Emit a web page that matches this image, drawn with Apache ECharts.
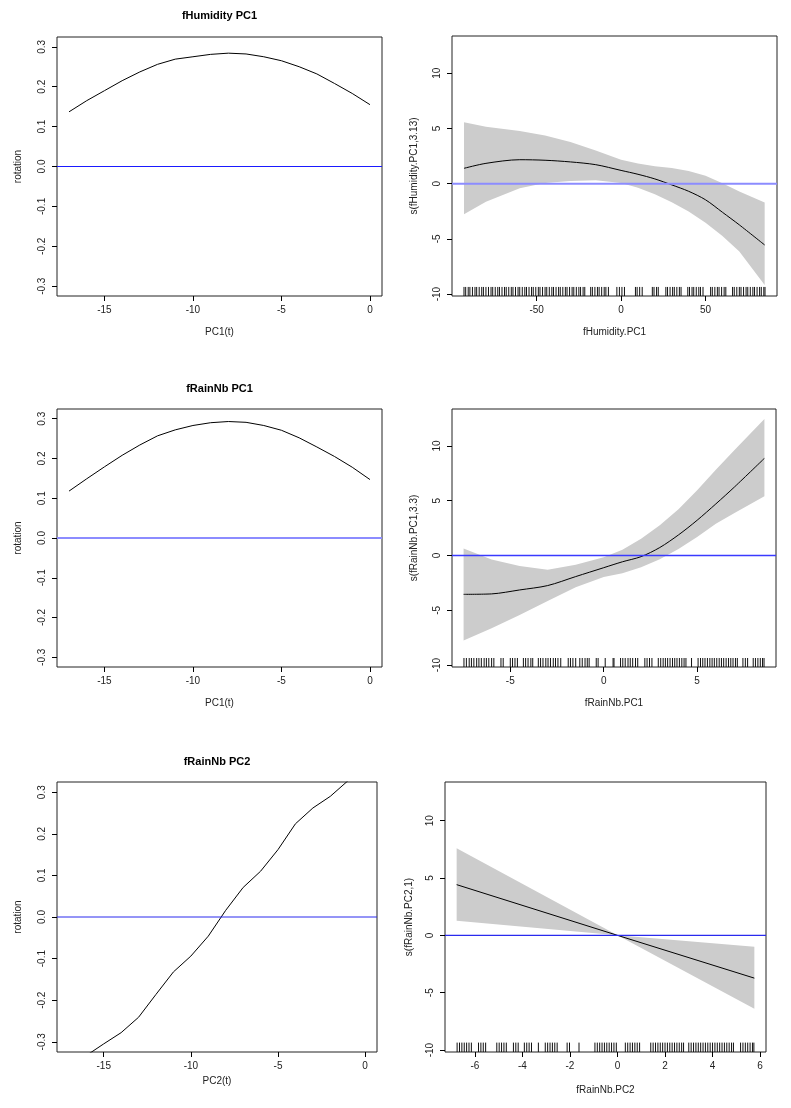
<!DOCTYPE html>
<html><head><meta charset="utf-8">
<script src="https://cdn.jsdelivr.net/npm/echarts@6/dist/echarts.min.js"></script>
<style>html,body{margin:0;padding:0;background:#fff}#wrap{position:relative;width:791px;height:1108px;background:#fff}
.panel{position:absolute;left:0;top:0;width:791px;height:1108px}</style>
</head><body><div id="wrap"></div>
<script>
// ---------- data ----------
const pcT = [-17,-16,-15,-14,-13,-12,-11,-10,-9,-8,-7,-6,-5,-4,-3,-2,-1,0];
const humPC1Rotation = [0.137,0.165,0.190,0.215,0.237,0.256,0.269,0.275,0.281,0.284,0.282,0.275,0.265,0.250,0.232,0.208,0.183,0.155];
const rainPC1Rotation = [0.118,0.149,0.179,0.208,0.234,0.257,0.272,0.283,0.290,0.293,0.291,0.283,0.271,0.252,0.229,0.205,0.178,0.147];
const rainPC2Rotation = [-0.360,-0.333,-0.305,-0.278,-0.241,-0.186,-0.132,-0.094,-0.046,0.016,0.071,0.110,0.162,0.224,0.262,0.290,0.327,0.360];

const humX   = [-93,-80,-60,-45,-30,-15,0,10,20,30,40,50,60,70,85];
const humFit = [1.39,1.84,2.17,2.12,1.97,1.72,1.20,0.85,0.43,-0.11,-0.69,-1.46,-2.59,-3.73,-5.55];
const humUp  = [5.56,5.16,4.77,4.37,3.78,3.01,2.16,1.82,1.58,1.41,1.15,0.72,0.04,-0.70,-1.70];
const humLo  = [-2.77,-1.63,-0.41,0.05,0.25,0.32,0.05,-0.38,-0.96,-1.69,-2.53,-3.54,-4.74,-6.15,-9.17];
const humRug = [-93,-92,-90.5,-89.5,-88,-86.5,-85.5,-84,-82.5,-81.5,-80,-78.5,-77,-76,-74.5,-73,-72,-70.5,-69,-68,-66.5,-65,-64,-62.5,-61,-60,-58.5,-57,-56,-54.5,-53,-52,-50.5,-49,-48,-46.5,-45,-44,-42.5,-41,-40,-38.5,-37,-36,-34.5,-33,-32,-30.5,-29,-28,-26.5,-25,-24,-22.5,-21.5,-18,-17,-15.5,-14,-13,-11.5,-10,-9,-7.5,-2.5,-1,0.5,2,8.5,9.5,11,12.5,18.5,19.5,21,22,26.5,27.5,29,30.5,31.5,33,34.5,35.5,39.5,40.5,42,43,44.5,46,47,48.5,53,54,55.5,57,58,59.5,61,62,66,67,68.5,70,71,72.5,74,75,76.5,78,79,80.5,82,83,84.5,85.2];

const rainX   = [-7.5,-6,-4.5,-3,-1.5,0,1,2,3,4,5,6,7,8.6];
const rainFit = [-3.54,-3.50,-3.14,-2.74,-1.92,-1.11,-0.57,-0.10,0.73,1.88,3.22,4.71,6.26,8.87];
const rainUp  = [0.64,-0.36,-0.95,-1.30,-0.85,-0.15,0.53,1.54,2.77,4.23,5.96,7.83,9.62,12.45];
const rainLo  = [-7.75,-6.64,-5.42,-4.14,-2.89,-1.96,-1.61,-1.07,-0.34,0.60,1.70,2.89,3.88,5.42];
const rainRug = [-7.48,-7.35,-7.2,-7.08,-6.95,-6.8,-6.68,-6.55,-6.4,-6.28,-6.15,-6.0,-5.88,-5.5,-5.38,-5.0,-4.88,-4.75,-4.62,-4.3,-4.18,-4.05,-3.9,-3.8,-3.5,-3.38,-3.25,-3.1,-2.98,-2.85,-2.7,-2.58,-2.45,-2.3,-1.9,-1.78,-1.65,-1.5,-1.28,-1.15,-1.0,-0.88,-0.78,-0.4,-0.3,0.08,0.5,0.55,0.9,1.02,1.15,1.3,1.42,1.55,1.7,1.82,2.2,2.32,2.45,2.58,2.92,3.05,3.18,3.3,3.42,3.55,3.68,3.8,3.92,4.05,4.18,4.3,4.4,4.7,5.05,5.18,5.3,5.42,5.55,5.68,5.8,5.92,6.05,6.18,6.3,6.42,6.55,6.68,6.8,6.92,7.05,7.15,7.45,7.58,7.7,8.0,8.12,8.25,8.38,8.5,8.58];

const pc2X   = [-6.77,0,5.76];
const pc2Fit = [4.42,0,-3.73];
const pc2Up  = [7.6,0,-0.99];
const pc2Lo  = [1.27,0,-6.39];
const pc2Rug = [-6.75,-6.65,-6.55,-6.45,-6.35,-6.25,-6.15,-5.85,-5.75,-5.65,-5.55,-5.08,-4.98,-4.88,-4.78,-4.68,-4.38,-4.28,-4.18,-3.92,-3.82,-3.72,-3.62,-3.33,-3.04,-2.94,-2.84,-2.74,-2.64,-2.54,-2.12,-2.02,-1.62,-0.95,-0.85,-0.75,-0.65,-0.55,-0.45,-0.35,-0.25,-0.15,-0.05,0.33,0.43,0.53,0.63,0.73,0.83,0.93,1.4,1.5,1.6,1.7,1.8,1.9,2.0,2.1,2.2,2.3,2.4,2.5,2.6,2.7,2.78,3.0,3.1,3.2,3.3,3.4,3.5,3.6,3.7,3.8,3.9,4.0,4.1,4.2,4.3,4.4,4.5,4.6,4.7,4.8,4.88,5.18,5.28,5.38,5.48,5.58,5.68,5.74];

const rotTicks = [-0.3,-0.2,-0.1,0,0.1,0.2,0.3];
const pcTicks = [-15,-10,-5,0];
const sTicks = [-10,-5,0,5,10];
const humTicks = [-50,0,50];
const rainTicks = [-5,0,5];
const pc2Ticks = [-6,-4,-2,0,2,4,6];
const ZERO = 0;

// ---------- layout ----------
const FONT = '"Liberation Sans", Arial, Helvetica, sans-serif';
const ROT_RANGE = [-0.3245, 0.3245];
const S_RANGE = [-10.17, 13.37];
const RUG_TOP = -9.35;

function drawPanel(p) {
  const div = document.createElement('div');
  div.className = 'panel';
  document.getElementById('wrap').appendChild(div);
  const series = [];
  if (p.band) {
    const b = p.band;
    series.push({type: 'custom', silent: true, z: 1,
      data: [[b.x[0], b.lo[0]]],
      renderItem: (params, api) => {
        const pts = [];
        for (let i = 0; i < b.x.length; i++) pts.push(api.coord([b.x[i], b.up[i]]));
        for (let i = b.x.length - 1; i >= 0; i--) pts.push(api.coord([b.x[i], b.lo[i]]));
        return {type: 'polygon', shape: {points: pts}, style: {fill: '#cccccc'}};
      }});
    series.push({type: 'custom', silent: true, z: 2,
      data: p.rug.map(v => [v, RUG_TOP]), encode: {x: 0, y: 1},
      renderItem: (params, api) => {
        const x = api.value(0);
        const a = api.coord([x, p.yr[0]]);
        const c = api.coord([x, api.value(1)]);
        return {type: 'line', shape: {x1: a[0], y1: a[1], x2: c[0], y2: c[1]},
          style: {stroke: '#111', lineWidth: 1}};
      }});
  }
  series.push({type: 'line', silent: true, z: 3,
    data: p.x.map((x, i) => [x, p.y[i]]), symbol: 'none', showSymbol: false,
    smooth: p.smooth || false, clip: true,
    itemStyle: {color: '#000'}, lineStyle: {color: '#000', width: 1}});
  const graphic = [];
  if (p.title) {
    graphic.push({type: 'text', x: p.box[0] + p.box[2] / 2, y: p.titleY,
      style: {text: p.title, textAlign: 'center', textVerticalAlign: 'middle',
        font: 'bold 11px ' + FONT, fill: '#000'}});
  }
  const chart = echarts.init(div, null, {renderer: 'canvas'});
  chart.setOption({
    animation: false,
    backgroundColor: 'transparent',
    grid: {left: p.box[0], top: p.box[1], width: p.box[2], height: p.box[3], show: true,
      borderColor: '#222', borderWidth: 1, backgroundColor: 'transparent'},
    xAxis: {type: 'value', min: p.xr[0], max: p.xr[1],
      name: p.xName, nameLocation: 'middle', nameGap: p.xGap,
      nameTextStyle: {fontFamily: FONT, fontSize: 10, color: '#222'},
      axisLine: {show: false, onZero: false},
      axisTick: {show: true, length: 5, customValues: p.xTicks, lineStyle: {color: '#000'}},
      axisLabel: {customValues: p.xTicks, margin: 9, fontFamily: FONT, fontSize: 10, color: '#222',
        formatter: v => String(v)},
      splitLine: {show: false}},
    yAxis: {type: 'value', min: p.yr[0], max: p.yr[1],
      name: p.yName, nameLocation: 'middle', nameGap: p.yGap, nameRotate: 90,
      nameTextStyle: {fontFamily: FONT, fontSize: 10, color: '#222'},
      axisLine: {show: false, onZero: false},
      axisTick: {show: true, length: 5, customValues: p.yTicks, lineStyle: {color: '#000'}},
      axisLabel: {customValues: p.yTicks, margin: 10, rotate: 90, fontFamily: FONT, fontSize: 10, color: '#222',
        formatter: p.yFmt},
      splitLine: {show: false}},
    series: series,
    graphic: graphic
  });
  // horizontal reference line at zero, positioned through the chart's own scales
  const a = chart.convertToPixel({gridIndex: 0}, [p.xr[0], ZERO]);
  const c = chart.convertToPixel({gridIndex: 0}, [p.xr[1], ZERO]);
  graphic.push({type: 'line', silent: true, z: 100,
    shape: {x1: a[0], y1: a[1], x2: c[0], y2: c[1]},
    style: {stroke: p.zeroColor, lineWidth: p.zeroWidth}});
  chart.setOption({graphic: graphic});
}

const rotFmt = v => v.toFixed(1);
const sFmt = v => String(v);

drawPanel({box: [57, 37, 325, 259], xr: [-17.68, 0.68], yr: ROT_RANGE, xTicks: pcTicks, yTicks: rotTicks, yFmt: rotFmt,
  xName: 'PC1(t)', xGap: 31, yName: 'rotation', yGap: 34, title: 'fHumidity PC1', titleY: 16,
  x: pcT, y: humPC1Rotation, zeroColor: '#1a1aff', zeroWidth: 1});
drawPanel({box: [452, 36, 325, 260], xr: [-100.1, 92.3], yr: S_RANGE, xTicks: humTicks, yTicks: sTicks, yFmt: sFmt,
  xName: 'fHumidity.PC1', xGap: 31, yName: 's(fHumidity.PC1,3.13)', yGap: 33,
  x: humX, y: humFit, smooth: 0.3, band: {x: humX, up: humUp, lo: humLo}, rug: humRug,
  zeroColor: '#8c8cff', zeroWidth: 2});
drawPanel({box: [57, 409, 325, 258], xr: [-17.68, 0.68], yr: ROT_RANGE, xTicks: pcTicks, yTicks: rotTicks, yFmt: rotFmt,
  xName: 'PC1(t)', xGap: 31, yName: 'rotation', yGap: 34, title: 'fRainNb PC1', titleY: 389,
  x: pcT, y: rainPC1Rotation, zeroColor: '#8c8cff', zeroWidth: 2});
drawPanel({box: [452, 409, 324, 258], xr: [-8.12, 9.22], yr: S_RANGE, xTicks: rainTicks, yTicks: sTicks, yFmt: sFmt,
  xName: 'fRainNb.PC1', xGap: 31, yName: 's(fRainNb.PC1,3.3)', yGap: 33,
  x: rainX, y: rainFit, smooth: 0.3, band: {x: rainX, up: rainUp, lo: rainLo}, rug: rainRug,
  zeroColor: '#3a3aff', zeroWidth: 1.6});
drawPanel({box: [57, 782, 320, 270], xr: [-17.68, 0.68], yr: ROT_RANGE, xTicks: pcTicks, yTicks: rotTicks, yFmt: rotFmt,
  xName: 'PC2(t)', xGap: 24, yName: 'rotation', yGap: 34, title: 'fRainNb PC2', titleY: 762,
  x: pcT, y: rainPC2Rotation, zeroColor: '#2a2aee', zeroWidth: 1});
drawPanel({box: [445, 782, 321, 270], xr: [-7.26, 6.25], yr: S_RANGE, xTicks: pc2Ticks, yTicks: sTicks, yFmt: sFmt,
  xName: 'fRainNb.PC2', xGap: 33, yName: 's(fRainNb.PC2,1)', yGap: 31,
  x: pc2X, y: pc2Fit, band: {x: pc2X, up: pc2Up, lo: pc2Lo}, rug: pc2Rug,
  zeroColor: '#2a2aee', zeroWidth: 1.3});
</script></body></html>
